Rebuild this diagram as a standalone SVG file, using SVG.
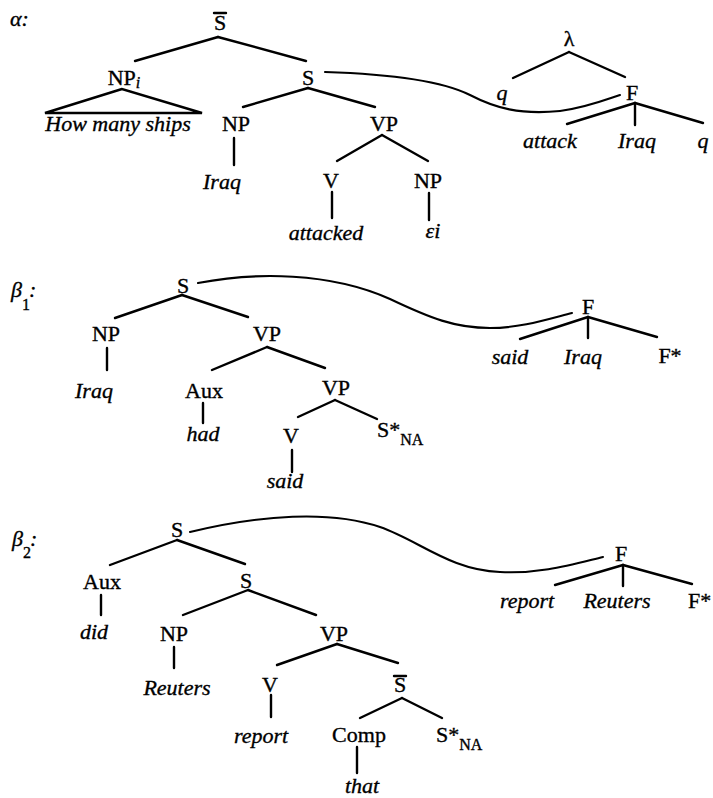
<svg xmlns="http://www.w3.org/2000/svg" width="713" height="798" viewBox="0 0 713 798">
<style>
text{font-family:"Liberation Serif","Times New Roman",serif;font-size:22px;fill:#000;stroke:#000;stroke-width:0.35;text-anchor:middle}
.i{font-style:italic}
.l{text-anchor:start}
.sub{font-size:16px}
line,path{stroke:#000;stroke-width:2.4;fill:none;stroke-linecap:round}
.c{stroke-width:2.1}
</style>
<rect width="713" height="798" fill="#fff"/>
<g id="labels">
<text class="i l" x="10" y="26">α:</text>
<text class="i l" x="11" y="297">β</text><text class="l sub" x="22" y="310">1</text><text class="i l" x="29" y="297">:</text>
<text class="i l" x="12" y="546">β</text><text class="l sub" x="23" y="558">2</text><text class="i l" x="30" y="546">:</text>
</g>
<g id="connectors">
<line x1="218" y1="37" x2="135" y2="61"/>
<line x1="218" y1="37" x2="306" y2="61"/>
<polygon points="122,89 45,113 202,113" fill="none" stroke="#000" stroke-width="2.4"/>
<line x1="308" y1="88" x2="243" y2="107"/>
<line x1="308" y1="88" x2="375" y2="107"/>
<line x1="234" y1="138" x2="234" y2="165"/>
<line x1="382" y1="135" x2="337" y2="161"/>
<line x1="382" y1="135" x2="428" y2="161"/>
<line x1="332" y1="192" x2="332" y2="218"/>
<line x1="429" y1="193" x2="429" y2="220"/>
<line x1="569" y1="52" x2="513" y2="78"/>
<line x1="569" y1="52" x2="625" y2="77"/>
<line x1="635" y1="103" x2="567" y2="124"/>
<line x1="635" y1="103" x2="635" y2="125"/>
<line x1="635" y1="103" x2="703" y2="123"/>
<path class="c" d="M325,72 C390,74 440,80 470,95 C495,108 520,115 560,111 C585,108 605,100 620,95"/>

<line x1="182" y1="295" x2="115" y2="318"/>
<line x1="182" y1="295" x2="248" y2="317"/>
<line x1="107" y1="348" x2="107" y2="370"/>
<line x1="267" y1="347" x2="212" y2="370"/>
<line x1="267" y1="347" x2="325" y2="368"/>
<line x1="203" y1="403" x2="203" y2="423"/>
<line x1="335" y1="400" x2="298" y2="417"/>
<line x1="335" y1="400" x2="377" y2="419"/>
<line x1="292" y1="450" x2="292" y2="472"/>
<line x1="588" y1="317" x2="520" y2="339"/>
<line x1="588" y1="317" x2="588" y2="338"/>
<line x1="588" y1="317" x2="657" y2="337"/>
<path class="c" d="M198,283 C255,272 330,272 390,299 C430,318 455,328 490,328 C520,328 545,320 572,313"/>

<line x1="177" y1="540" x2="110" y2="565"/>
<line x1="177" y1="540" x2="245" y2="564"/>
<line x1="101" y1="595" x2="101" y2="615"/>
<line x1="248" y1="590" x2="183" y2="615"/>
<line x1="248" y1="590" x2="316" y2="615"/>
<line x1="174" y1="647" x2="174" y2="668"/>
<line x1="337" y1="644" x2="277" y2="665"/>
<line x1="337" y1="644" x2="398" y2="663"/>
<line x1="271" y1="695" x2="271" y2="717"/>
<line x1="402" y1="698" x2="360" y2="718"/>
<line x1="402" y1="698" x2="442" y2="718"/>
<line x1="357" y1="747" x2="357" y2="773"/>
<line x1="623" y1="565" x2="555" y2="585"/>
<line x1="623" y1="565" x2="623" y2="586"/>
<line x1="623" y1="565" x2="692" y2="584"/>
<path class="c" d="M190,532 C260,515 330,510 380,527 C420,541 450,570 500,572 C540,574 570,565 603,557"/>
</g>

<g id="alpha-Sbar"><text x="220" y="30">S</text><line x1="214" y1="13" x2="226" y2="13" stroke-width="1.8"/></g>
<g id="alpha-NPi"><text x="124" y="85">NP<tspan class="i sub" dy="3">i</tspan></text></g>
<g id="alpha-howmanyships"><text class="i" x="118" y="131">How many ships</text></g>
<g id="alpha-S"><text x="308" y="85">S</text></g>
<g id="alpha-NP"><text x="236" y="131">NP</text></g>
<g id="alpha-Iraq"><text class="i" x="222" y="189">Iraq</text></g>
<g id="alpha-VP"><text x="384" y="131">VP</text></g>
<g id="alpha-V"><text x="331" y="188">V</text></g>
<g id="alpha-attacked"><text class="i" x="326" y="240">attacked</text></g>
<g id="alpha-NP2"><text x="428" y="188">NP</text></g>
<g id="alpha-eps"><text class="i" x="433" y="238">εi</text></g>
<g id="alpha-lambda"><text x="569" y="46">λ</text></g>
<g id="alpha-q"><text class="i" x="502" y="100">q</text></g>
<g id="alpha-F"><text x="632" y="100">F</text></g>
<g id="alpha-attack"><text class="i" x="550" y="148">attack</text></g>
<g id="alpha-Iraq2"><text class="i" x="637" y="148">Iraq</text></g>
<g id="alpha-q2"><text class="i" x="703" y="148">q</text></g>

<g id="b1-S"><text x="183" y="293">S</text></g>
<g id="b1-NP"><text x="106" y="341">NP</text></g>
<g id="b1-Iraq"><text class="i" x="94" y="398">Iraq</text></g>
<g id="b1-VP"><text x="267" y="341">VP</text></g>
<g id="b1-Aux"><text x="204" y="398">Aux</text></g>
<g id="b1-had"><text class="i" x="203" y="441">had</text></g>
<g id="b1-VP2"><text x="336" y="395">VP</text></g>
<g id="b1-V"><text x="291" y="443">V</text></g>
<g id="b1-said"><text class="i" x="285" y="488">said</text></g>
<g id="b1-Sstar"><text class="l" x="377" y="437">S*<tspan class="sub" dy="8">NA</tspan></text></g>
<g id="b1-F"><text x="588" y="314">F</text></g>
<g id="b1-said2"><text class="i" x="510" y="364">said</text></g>
<g id="b1-Iraq2"><text class="i" x="583" y="364">Iraq</text></g>
<g id="b1-Fstar"><text x="670" y="363">F*</text></g>

<g id="b2-S"><text x="177" y="537">S</text></g>
<g id="b2-Aux"><text x="102" y="589">Aux</text></g>
<g id="b2-did"><text class="i" x="94" y="639">did</text></g>
<g id="b2-S2"><text x="246" y="588">S</text></g>
<g id="b2-NP"><text x="174" y="641">NP</text></g>
<g id="b2-Reuters"><text class="i" x="177" y="695">Reuters</text></g>
<g id="b2-VP"><text x="334" y="641">VP</text></g>
<g id="b2-V"><text x="270" y="692">V</text></g>
<g id="b2-report"><text class="i" x="261" y="743">report</text></g>
<g id="b2-Sbar"><text x="400" y="692">S</text><line x1="394" y1="676" x2="406" y2="676" stroke-width="1.8"/></g>
<g id="b2-Comp"><text x="359" y="742">Comp</text></g>
<g id="b2-that"><text class="i" x="362" y="793">that</text></g>
<g id="b2-Sstar"><text class="l" x="436" y="742">S*<tspan class="sub" dy="8">NA</tspan></text></g>
<g id="b2-F"><text x="621" y="561">F</text></g>
<g id="b2-report2"><text class="i" x="527" y="608">report</text></g>
<g id="b2-Reuters2"><text class="i" x="617" y="608">Reuters</text></g>
<g id="b2-Fstar"><text class="l" x="688" y="608">F*</text></g>
</svg>
